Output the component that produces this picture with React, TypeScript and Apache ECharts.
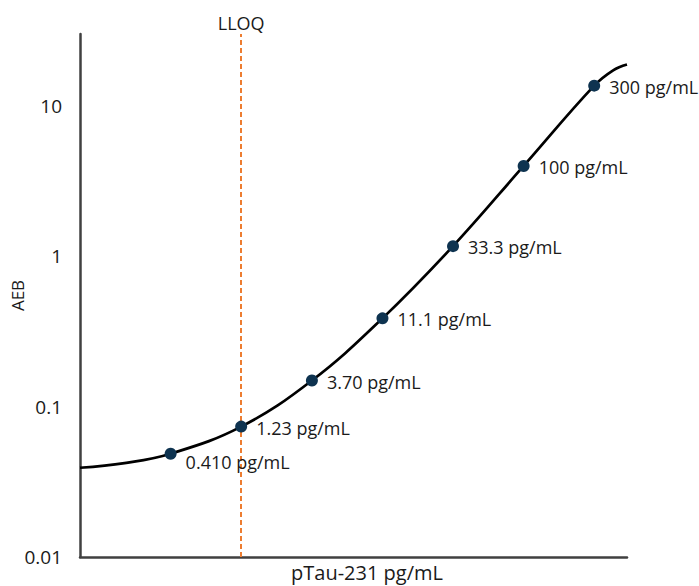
import React, { useEffect, useRef } from "react";
import * as echarts from "echarts";

// Calibrator concentrations (pg/mL) and measured AEB
const concentrations = [0.41, 1.23, 3.7, 11.1, 33.3, 100, 300];
const aebValues = [0.0486, 0.0736, 0.149, 0.386, 1.166, 3.98, 13.6];
const pointLabels = [
  "0.410 pg/mL",
  "1.23 pg/mL",
  "3.70 pg/mL",
  "11.1 pg/mL",
  "33.3 pg/mL",
  "100 pg/mL",
  "300 pg/mL",
];

// Fitted curve
const curveX = [0.1, 0.2, 0.41, 1.23, 3.7, 11.1, 33.3, 100, 300, 403, 500];
const curveY = [0.0392, 0.0421, 0.0486, 0.0736, 0.149, 0.386, 1.166, 3.98, 13.6, 17.2, 18.8];

const yTickLabels = ["0.01", "0.1", "1", "10"];
const lloq = 1.23;
const xAxisTitle = "pTau-231 pg/mL";
const yAxisTitle = "AEB";
const lloqLabel = "LLOQ";

const FONT = "Open Sans";
const TEXT = "#1a1a1a";

export default function App() {
  const ref = useRef<HTMLDivElement>(null);

  useEffect(() => {
    if (!ref.current) return;
    const chart = echarts.init(ref.current, undefined, { renderer: "svg" });
    const curve = curveX.map((x, i) => [x, curveY[i]]);
    const points = concentrations.map((x, i) => ({
      value: [x, aebValues[i]],
      label: {
        show: true,
        formatter: pointLabels[i],
        offset: i === 0 ? [0, 8] : [0, 1],
      },
    }));
    chart.setOption({
      animation: false,
      backgroundColor: "#ffffff",
      textStyle: { fontFamily: FONT },
      grid: {
        left: 80,
        right: 72,
        top: 34,
        bottom: 29,
        containLabel: false,
        outerBoundsMode: "none",
      },
      xAxis: {
        type: "log",
        logBase: 10,
        min: 0.1,
        max: 500,
        name: xAxisTitle,
        nameLocation: "middle",
        nameGap: 5,
        nameMoveOverlap: false,
        nameTextStyle: {
          fontFamily: FONT,
          fontSize: 20,
          color: TEXT,
          verticalAlign: "top",
          padding: [0, 0, 0, 27],
        },
        axisLine: { show: true, lineStyle: { color: "#404040", width: 2.5 } },
        axisTick: { show: false },
        axisLabel: { show: false },
        splitLine: { show: false },
      },
      yAxis: {
        type: "log",
        logBase: 10,
        min: 0.01,
        max: 30,
        name: yAxisTitle,
        nameLocation: "middle",
        nameGap: 54,
        nameRotate: 90,
        nameMoveOverlap: false,
        nameTextStyle: { fontFamily: FONT, fontSize: 17, color: TEXT },
        axisLine: { show: true, lineStyle: { color: "#404040", width: 2.5 } },
        axisTick: { show: false },
        axisLabel: {
          margin: 18,
          fontFamily: FONT,
          fontSize: 19,
          color: TEXT,
          formatter: (v: number) => {
            const s = yTickLabels.find((t) => Math.abs(parseFloat(t) - v) / v < 1e-6);
            return s || "";
          },
        },
        splitLine: { show: false },
      },
      series: [
        {
          type: "line",
          data: curve,
          smooth: 0.4,
          showSymbol: false,
          symbol: "none",
          lineStyle: { color: "#000000", width: 2.7 },
          z: 2,
          markLine: {
            silent: true,
            z: 1,
            symbol: ["none", "none"],
            lineStyle: { color: "#ED7D31", width: 2, type: [5, 3] },
            label: {
              show: true,
              position: "end",
              formatter: lloqLabel,
              fontFamily: FONT,
              fontSize: 18,
              color: TEXT,
              distance: 2,
            },
            data: [{ xAxis: lloq }],
          },
        },
        {
          type: "scatter",
          data: points,
          symbol: "circle",
          symbolSize: 12,
          itemStyle: { color: "#0E3350", opacity: 1 },
          label: {
            position: "right",
            distance: 9,
            fontFamily: FONT,
            fontSize: 18,
            color: TEXT,
          },
          z: 10,
        },
      ],
    });
    return () => chart.dispose();
  }, []);

  return (
    <div
      ref={ref}
      style={{ position: "fixed", left: 0, top: 0, width: 699, height: 586 }}
    />
  );
}
